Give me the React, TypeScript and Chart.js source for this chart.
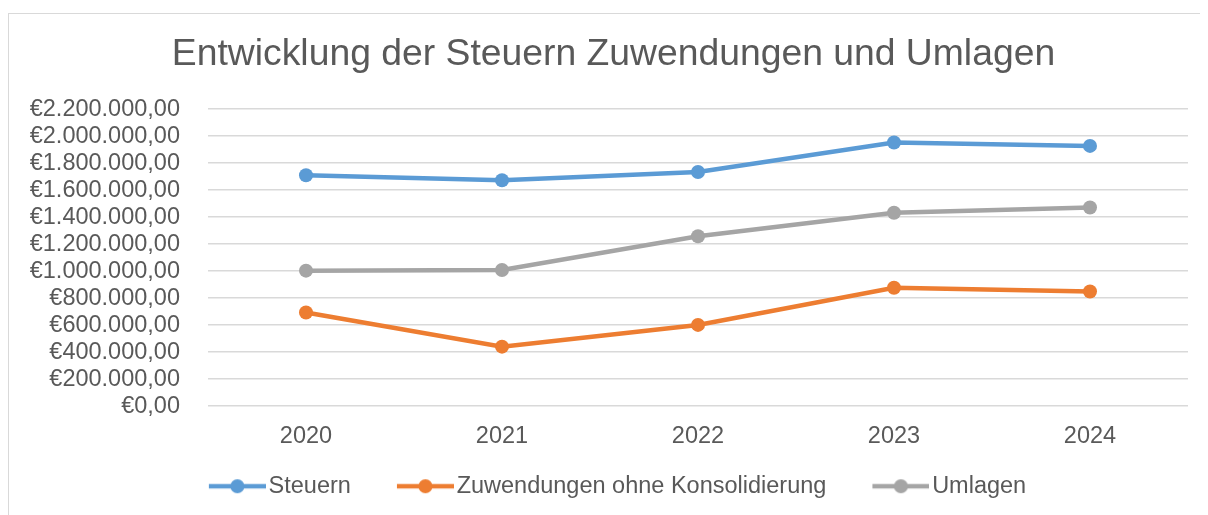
import React, { useEffect, useRef } from "react";
import { Chart, registerables } from "chart.js";

Chart.register(...registerables);

const TITLE = "Entwicklung der Steuern Zuwendungen und Umlagen";
const categories = ["2020", "2021", "2022", "2023", "2024"];
const steuern = [1710000, 1673000, 1735000, 1953000, 1928000];
const zuwendungen = [694000, 441000, 602000, 877000, 850000];
const umlagen = [1004000, 1009000, 1259000, 1433000, 1472000];
const seriesNames = ["Steuern", "Zuwendungen ohne Konsolidierung", "Umlagen"];
const seriesColors = ["#5B9BD5", "#ED7D31", "#A5A5A5"];
const yMin = 0;
const yMax = 2200000;
const yStep = 200000;

function fmtEuro(v: number): string {
  const s = Math.round(v).toString().replace(/\B(?=(\d{3})+(?!\d))/g, ".");
  return "€" + s + ",00";
}

// legend icon: line with a dot, right-aligned in a wider transparent canvas
function makeLegendIcon(color: string): HTMLCanvasElement {
  const c = document.createElement("canvas");
  c.width = 102;
  c.height = 18;
  const ctx = c.getContext("2d")!;
  ctx.strokeStyle = color;
  ctx.lineWidth = 4.5;
  ctx.beginPath();
  ctx.moveTo(45, 9);
  ctx.lineTo(102, 9);
  ctx.stroke();
  ctx.fillStyle = color;
  ctx.beginPath();
  ctx.arc(73.5, 9, 7, 0, Math.PI * 2);
  ctx.fill();
  return c;
}

export default function App() {
  const ref = useRef<HTMLCanvasElement | null>(null);

  useEffect(() => {
    if (!ref.current) return;
    const icons = seriesColors.map(makeLegendIcon);
    const values = [steuern, zuwendungen, umlagen];
    const font = "'Liberation Sans', Arial, sans-serif";
    const shiftBoxes = {
      id: "shiftBoxes",
      afterLayout(ch: any) {
        if (ch.legend) {
          ch.legend.left -= 4;
          ch.legend.right -= 4;
        }
        if (ch.titleBlock) {
          ch.titleBlock.left += 10;
          ch.titleBlock.right += 10;
        }
      },
    };
    const chart = new Chart(ref.current, {
      type: "line",
      data: {
        labels: categories,
        datasets: values.map((d, i) => ({
          label: seriesNames[i],
          data: d,
          borderColor: seriesColors[i],
          backgroundColor: seriesColors[i],
          borderWidth: 4.5,
          pointRadius: 7,
          pointHoverRadius: 7,
          pointBorderWidth: 0,
          pointBackgroundColor: seriesColors[i],
          tension: 0,
        })),
      },
      plugins: [shiftBoxes],
      options: {
        animation: false,
        responsive: false,
        maintainAspectRatio: false,
        layout: { padding: { left: 10, right: 30, top: 0, bottom: 11 } },
        plugins: {
          tooltip: { enabled: false },
          title: {
            display: true,
            text: TITLE,
            color: "#595959",
            font: { family: font, size: 37.3, weight: "normal" },
            padding: { top: 18.6, bottom: 31.8 },
          },
          legend: {
            position: "bottom",
            labels: {
              usePointStyle: true,
              pointStyleWidth: 84,
              padding: 10,
              color: "#595959",
              font: { family: font, size: 23.5 },
              generateLabels: (ch: any) => {
                const items = (Chart.defaults.plugins.legend.labels as any).generateLabels(ch);
                items.forEach((it: any, i: number) => {
                  it.pointStyle = icons[i];
                });
                return items;
              },
            },
          },
        },
        scales: {
          x: {
            offset: true,
            grid: { display: false, drawTicks: false },
            border: { display: false },
            afterFit: (s: any) => {
              s.height = 58.3;
            },
            ticks: {
              autoSkip: false,
              maxRotation: 0,
              color: "#595959",
              font: { family: font, size: 23.5 },
              padding: 16,
            },
          },
          y: {
            min: yMin,
            max: yMax,
            grid: { color: "#d9d9d9", lineWidth: 1.5, drawTicks: false },
            border: { display: false },
            afterFit: (s: any) => {
              s.width = 189;
            },
            ticks: {
              autoSkip: false,
              stepSize: yStep,
              color: "#595959",
              font: { family: font, size: 23.5 },
              padding: 28,
              callback: (v: any) => fmtEuro(Number(v)),
            },
          },
        },
      },
    });
    return () => chart.destroy();
  }, []);

  return (
    <div style={{ width: 1200, height: 507, overflow: "hidden" }}>
      <div
        style={{
          marginTop: 5,
          width: 1209,
          height: 505,
          border: "1.5px solid #d9d9d9",
          background: "#fff",
        }}
      >
        <canvas ref={ref} width={1209} height={505} style={{ display: "block" }} />
      </div>
    </div>
  );
}
